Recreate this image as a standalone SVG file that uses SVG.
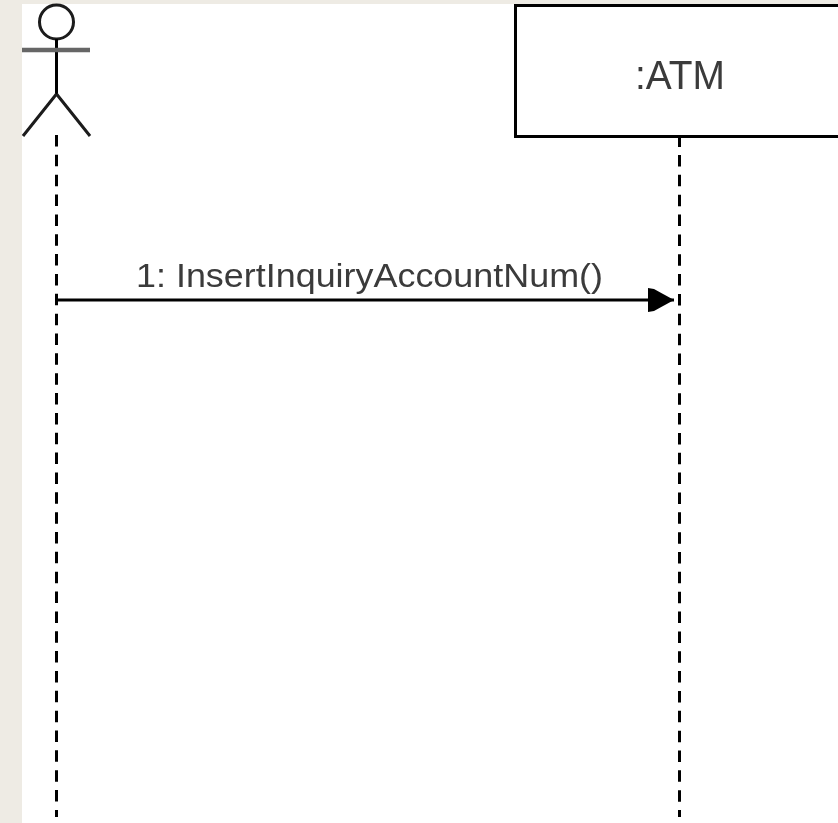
<svg xmlns="http://www.w3.org/2000/svg" width="838" height="823" viewBox="0 0 838 823">
<style>
.line{fill:none;stroke:#000;stroke-width:3}
.thin{fill:none;stroke:#1a1a1a;stroke-width:3}
.life{fill:none;stroke:#000;stroke-width:3;stroke-dasharray:11.5 8.35}
.lbl{font-family:"Liberation Sans",Arial,sans-serif;fill:#3a3a3a;filter:url(#soft)}
</style>
<defs>
<filter id="soft" x="-5%" y="-20%" width="110%" height="140%"><feGaussianBlur stdDeviation="0.7"/></filter>
<filter id="soft2" x="-5%" y="-5%" width="110%" height="110%"><feGaussianBlur stdDeviation="0.4"/></filter>
<marker id="arrow" markerUnits="userSpaceOnUse" markerWidth="28" markerHeight="28" refX="26" refY="14" orient="auto"><path d="M0 2L6 3L26 14L6 25L0 26Z" fill="#000"/></marker>
</defs>
<rect width="838" height="823" fill="#eeebe4"/>
<rect x="22" y="4" width="816" height="819" fill="#fff"/>
<g id="actor" filter="url(#soft2)">
<circle class="thin" cx="56.500" cy="22" r="17"/>
<path class="line" d="M56.500 39V94"/>
<path d="M22 50H90" fill="none" stroke="#666" stroke-width="4.500"/>
<path class="thin" d="M56.500 94L23 136M56.500 94L90 136"/>
</g>
<g id="atm">
<rect x="515.500" y="5.500" width="330" height="131" fill="#fff" stroke="#000" stroke-width="3"/>
<text class="lbl" x="635" y="89" font-size="40" textLength="90" lengthAdjust="spacingAndGlyphs">:ATM</text>
</g>
<g id="connectors">
<path class="life" d="M56.500 135V817"/>
<path class="life" d="M679.500 155V817"/>
<path class="line" d="M679.500 138V147"/>
<path d="M56.500 300H674" fill="none" stroke="#000" stroke-width="3" marker-end="url(#arrow)"/>
<text class="lbl" x="136" y="287" font-size="34" textLength="467" lengthAdjust="spacingAndGlyphs">1: InsertInquiryAccountNum()</text>
</g>
</svg>
